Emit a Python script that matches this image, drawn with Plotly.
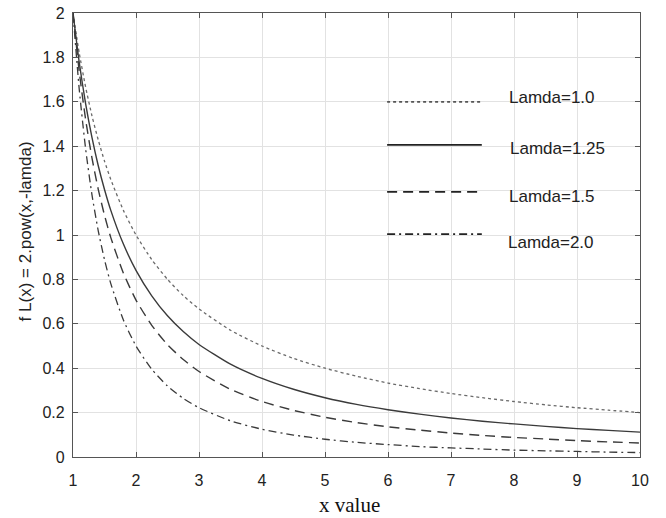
import plotly.graph_objects as go

# x sample positions and values
x_vals = [1, 1.1, 1.2, 1.3, 1.4, 1.5, 1.6, 1.8, 2, 2.25, 2.5, 2.75, 3, 3.5, 4,
          4.5, 5, 5.5, 6, 6.5, 7, 7.5, 8, 8.5, 9, 9.5, 10]
lamda_1_0 = [2.0, 1.818, 1.667, 1.538, 1.429, 1.333, 1.25, 1.111, 1.0, 0.889, 0.8,
             0.727, 0.667, 0.571, 0.5, 0.444, 0.4, 0.364, 0.333, 0.308, 0.286,
             0.267, 0.25, 0.235, 0.222, 0.211, 0.2]
lamda_1_25 = [2.0, 1.775, 1.592, 1.441, 1.313, 1.205, 1.111, 0.959, 0.841, 0.726,
              0.636, 0.565, 0.507, 0.418, 0.354, 0.305, 0.267, 0.237, 0.213, 0.193,
              0.176, 0.161, 0.149, 0.138, 0.128, 0.12, 0.112]
lamda_1_5 = [2.0, 1.734, 1.521, 1.349, 1.207, 1.089, 0.988, 0.828, 0.707, 0.593,
             0.506, 0.439, 0.385, 0.305, 0.25, 0.21, 0.179, 0.155, 0.136, 0.121,
             0.108, 0.097, 0.088, 0.081, 0.074, 0.068, 0.063]
lamda_2_0 = [2.0, 1.653, 1.389, 1.183, 1.02, 0.889, 0.781, 0.617, 0.5, 0.395, 0.32,
             0.264, 0.222, 0.163, 0.125, 0.099, 0.08, 0.066, 0.056, 0.047, 0.041,
             0.036, 0.031, 0.028, 0.025, 0.022, 0.02]

series_names = ["Lamda=1.0", "Lamda=1.25", "Lamda=1.5", "Lamda=2.0"]
series_vals = [lamda_1_0, lamda_1_25, lamda_1_5, lamda_2_0]
x_ticks = [1, 2, 3, 4, 5, 6, 7, 8, 9, 10]
y_ticks = [0, 0.2, 0.4, 0.6, 0.8, 1, 1.2, 1.4, 1.6, 1.8, 2]
y_tick_text = ["0", "0.2", "0.4", "0.6", "0.8", "1", "1.2", "1.4", "1.6", "1.8", "2"]
x_title = "x value"
y_title = "f L(x) = 2.pow(x,-lamda)"

styles = [
    dict(color="#6a6a6a", dash="dot", width=1.3),
    dict(color="#3a3a3a", dash="solid", width=1.4),
    dict(color="#3a3a3a", dash="10px,6px", width=1.4),
    dict(color="#3a3a3a", dash="8px,4px,2px,4px", width=1.3),
]

fig = go.Figure()
for name, vals, st in zip(series_names, series_vals, styles):
    fig.add_trace(go.Scatter(x=x_vals, y=vals, mode="lines", name=name,
                             line=dict(shape="spline", smoothing=0.6, **st),
                             showlegend=False))

# manual legend (long line samples like the reference)
leg_line_y = [0.800, 0.703, 0.597, 0.502]
leg_text_y = [0.809, 0.694, 0.586, 0.484]
leg_text_x = [0.765, 0.767, 0.765, 0.763]
for name, st, ly, ty, tx in zip(series_names, styles, leg_line_y, leg_text_y, leg_text_x):
    fig.add_shape(type="line", xref="paper", yref="paper", x0=0.554, x1=0.721,
                  y0=ly, y1=ly,
                  line=dict(color="#222222" if st["dash"] != "dot" else "#555555",
                            dash=st["dash"], width=st["width"] + 0.4))
    fig.add_annotation(xref="paper", yref="paper", x=tx, y=ty, text=name,
                       showarrow=False, xanchor="left", yanchor="middle",
                       font=dict(family="Liberation Sans, Arial", size=17, color="#222222"))

axis_common = dict(showline=True, linecolor="#555555", linewidth=1.3, mirror="ticks",
                   ticks="inside", ticklen=5, tickcolor="#555555", automargin=False,
                   showgrid=True, gridcolor="#e2e2e2", gridwidth=1, zeroline=False,
                   tickfont=dict(family="Liberation Sans, Arial", size=16, color="#222222"))

fig.update_xaxes(range=[1, 10], tickvals=x_ticks, ticklabelstandoff=9, **axis_common)
fig.update_yaxes(range=[0, 2], tickvals=y_ticks, ticktext=y_tick_text,
                 ticklabelstandoff=4, **axis_common)

fig.add_annotation(xref="paper", yref="paper", x=0.487, y=-0.137, text=x_title,
                   showarrow=False, xanchor="center", yanchor="bottom", borderpad=0,
                   font=dict(family="Liberation Serif, Times New Roman", size=21, color="#111111"))
fig.add_annotation(xref="paper", yref="paper", x=-0.0847, y=0.508, text=y_title,
                   showarrow=False, textangle=-90, xanchor="center", yanchor="middle",
                   font=dict(family="Liberation Sans, Arial", size=17, color="#222222"))

fig.update_layout(width=666, height=518, margin=dict(l=73, r=26, t=13, b=61),
                  paper_bgcolor="white", plot_bgcolor="white")

fig.write_html("out.html", config={"displayModeBar": False},
               post_script="document.body.style.margin='0';document.body.style.padding='0';"
                           "document.body.style.overflow='hidden';")
